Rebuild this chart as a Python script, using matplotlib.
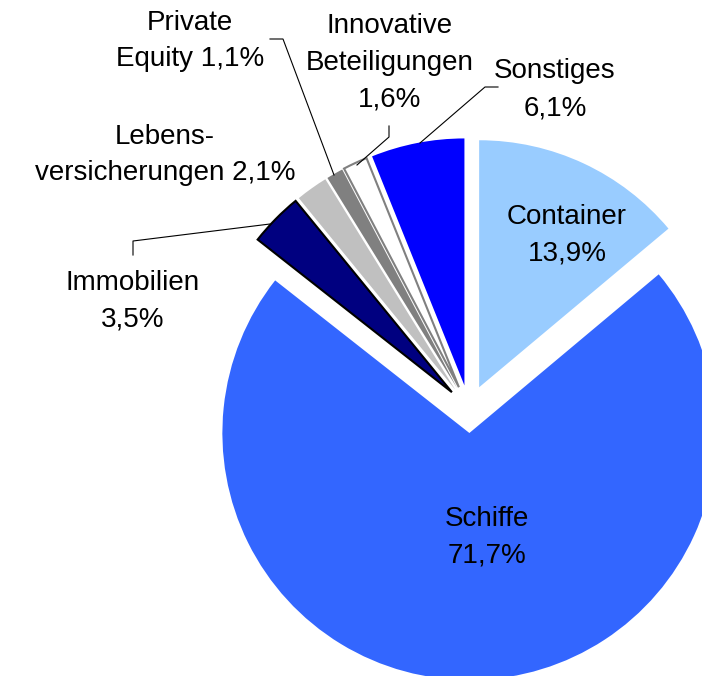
import matplotlib
matplotlib.use("Agg")
import matplotlib.pyplot as plt

plt.rcParams['font.family'] = ['Liberation Sans', 'DejaVu Sans']

# Portfolio shares in percent (clockwise from 12 o'clock)
categories = ["Container", "Schiffe", "Immobilien", "Lebensversicherungen",
              "Private Equity", "Innovative Beteiligungen", "Sonstiges"]
shares = [13.9, 71.7, 3.5, 2.1, 1.1, 1.6, 6.1]
label_texts = ["Container\n13,9%", "Schiffe\n71,7%", "Immobilien\n3,5%",
               "Lebens-\nversicherungen 2,1%", "Private\nEquity 1,1%",
               "Innovative\nBeteiligungen\n1,6%", "Sonstiges\n6,1%"]

colors = ["#99CCFF", "#3366FF", "#000080", "#C0C0C0", "#808080", "#FFFFFF", "#0000FF"]
edges = ["none", "none", "black", "none", "none", "#808080", "none"]

fig = plt.figure(figsize=(7.02, 6.76), dpi=100)
ax = fig.add_axes([0, 0, 1, 1])

R = 247
wedges, _ = ax.pie(shares, colors=colors, startangle=90, counterclock=False,
                   explode=[24] * len(shares), radius=R, center=(469, 267),
                   frame=True)
for w, ec in zip(wedges, edges):
    w.set_edgecolor(ec)
    w.set_linewidth(1.5 if ec != "none" else 0)
ax.set_xlim(0, 702)
ax.set_ylim(0, 676)
ax.axis("off")

fs = 20
ls = 1.55
# text positions in pixels (y measured from top)
pos = {
    "Container": (567, 235),
    "Schiffe": (487, 537),
    "Immobilien": (133, 301),
    "Lebensversicherungen": (165, 155),
    "Private Equity": (190, 41),
    "Innovative Beteiligungen": (390, 63),
    "Sonstiges": (555, 90),
}
for cat, txt in zip(categories, label_texts):
    x, y = pos[cat]
    ax.text(x, 676 - y, txt, ha="center", va="center", multialignment="center",
            fontsize=fs, linespacing=ls, color="black")

# leader lines (pixel coords, y from top)
leaders = [
    [(133, 255), (133, 241), (270, 224)],
    [(270, 39), (283, 39), (334, 175)],
    [(389, 126), (389, 137), (357, 165)],
    [(498, 87), (485, 87), (420, 143)],
]
for pts in leaders:
    xs = [p[0] for p in pts]
    ys = [676 - p[1] for p in pts]
    ax.plot(xs, ys, color="black", lw=0.8)

fig.savefig("out.png", dpi=100)
